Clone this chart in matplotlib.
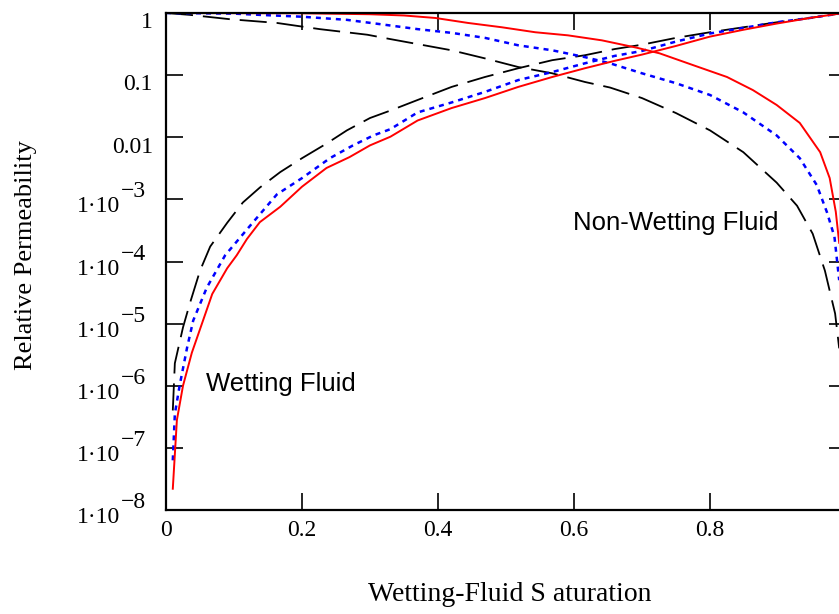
import numpy as np
import matplotlib
matplotlib.use("Agg")
import matplotlib.pyplot as plt
import matplotlib.transforms as transforms

# wetting-fluid curves (saturation, relative permeability)
s_w_red = [0.01, 0.016, 0.025, 0.038, 0.068, 0.09, 0.104, 0.119, 0.138, 0.168, 0.2, 0.236, 0.27, 0.30, 0.33,
           0.37, 0.42, 0.469, 0.518, 0.568, 0.616, 0.66, 0.70, 0.75, 0.80, 0.849, 0.898, 0.947, 0.99]
kr_w_red = [2.2e-8, 2.8e-7, 1.0e-6, 3.4e-6, 3.0e-5, 7.8e-5, 1.26e-4, 2.3e-4, 4.3e-4, 7.6e-4, 1.6e-3, 3.2e-3,
            4.8e-3, 7.4e-3, 0.0102, 0.0186, 0.0295, 0.0427, 0.0646, 0.0933, 0.129, 0.17, 0.214, 0.295, 0.417,
            0.537, 0.676, 0.832, 0.977]

s_w_blue = [0.01, 0.013, 0.02, 0.031, 0.04, 0.06, 0.087, 0.124, 0.163, 0.2, 0.241, 0.275, 0.305, 0.33, 0.37,
            0.42, 0.469, 0.518, 0.568, 0.616, 0.66, 0.70, 0.75, 0.80, 0.849, 0.898, 0.947, 0.99]
kr_w_blue = [6.3e-8, 3.5e-7, 1.0e-6, 4.1e-6, 1.12e-5, 3.8e-5, 1.26e-4, 3.8e-4, 1.2e-3, 2.2e-3, 4.6e-3, 7.4e-3,
             0.0107, 0.0135, 0.0251, 0.0363, 0.0537, 0.0832, 0.112, 0.155, 0.204, 0.245, 0.347, 0.468, 0.575,
             0.708, 0.832, 0.977]

s_w_black = [0.01, 0.013, 0.025, 0.035, 0.05, 0.065, 0.09, 0.113, 0.138, 0.168, 0.2, 0.236, 0.266, 0.30, 0.33,
             0.37, 0.42, 0.469, 0.518, 0.568, 0.616, 0.66, 0.70, 0.75, 0.80, 0.849, 0.898, 0.947, 0.99]
kr_w_black = [4.0e-7, 2.3e-6, 8.7e-6, 2.1e-5, 7.1e-5, 1.74e-4, 4.2e-4, 8.9e-4, 1.55e-3, 2.75e-3, 4.6e-3,
              7.9e-3, 0.0129, 0.0204, 0.0269, 0.0398, 0.0646, 0.0933, 0.129, 0.174, 0.209, 0.263, 0.309, 0.398,
              0.49, 0.589, 0.708, 0.832, 0.977]

# non-wetting-fluid curves
s_nw_red = [0.0, 0.2, 0.3, 0.35, 0.396, 0.444, 0.494, 0.543, 0.591, 0.641, 0.693, 0.726, 0.775, 0.825, 0.863,
            0.898, 0.932, 0.962, 0.976, 0.985, 0.99]
kr_nw_red = [1.0, 0.99, 0.955, 0.912, 0.832, 0.692, 0.589, 0.49, 0.437, 0.363, 0.275, 0.224, 0.145, 0.0933,
             0.0575, 0.0331, 0.017, 5.75e-3, 2.2e-3, 6.3e-4, 2.0e-4]

s_nw_blue = [0.0, 0.1, 0.138, 0.2, 0.266, 0.322, 0.37, 0.42, 0.469, 0.518, 0.568, 0.616, 0.653, 0.70, 0.75,
             0.80, 0.849, 0.898, 0.932, 0.957, 0.972, 0.983, 0.99]
kr_nw_blue = [1.0, 0.977, 0.933, 0.871, 0.776, 0.646, 0.55, 0.479, 0.398, 0.302, 0.251, 0.195, 0.155, 0.107,
              0.0741, 0.0479, 0.0251, 0.0107, 4.6e-3, 1.7e-3, 6.2e-4, 2.5e-4, 5.0e-5]

s_nw_black = [0.0, 0.035, 0.094, 0.163, 0.226, 0.296, 0.33, 0.37, 0.42, 0.469, 0.518, 0.568, 0.616, 0.653,
              0.70, 0.75, 0.80, 0.849, 0.898, 0.928, 0.951, 0.969, 0.984, 0.99]
kr_nw_black = [1.0, 0.933, 0.794, 0.692, 0.55, 0.447, 0.38, 0.316, 0.251, 0.186, 0.135, 0.107, 0.0776, 0.0631,
               0.0427, 0.0245, 0.0129, 5.75e-3, 1.86e-3, 7.9e-4, 2.8e-4, 7.1e-5, 1.45e-5, 4.0e-6]

x_ticks = [0, 0.2, 0.4, 0.6, 0.8, 1.0]
x_tick_labels = ["0", "0.2", "0.4", "0.6", "0.8", ""]
y_plain = [1, 0.1, 0.01]
y_plain_labels = ["1", "0.1", "0.01"]
y_exp = [1e-3, 1e-4, 1e-5, 1e-6, 1e-7, 1e-8]
y_exp_labels = ["3", "4", "5", "6", "7", "8"]

serif = "Liberation Serif"
sans = "Liberation Sans"

fig = plt.figure(figsize=(8.39, 6.14), dpi=100)
ax = fig.add_axes([166 / 839, 104 / 614, 680 / 839, 497 / 614])

ax.plot(s_nw_black, kr_nw_black, color="black", lw=1.3, ls=(0, (15, 5.5)))
ax.plot(s_w_black, kr_w_black, color="black", lw=1.3, ls=(0, (15, 5.5)))
ax.plot(s_nw_blue, kr_nw_blue, color="#0000ff", lw=1.8, ls=(0, (2, 2)))
ax.plot(s_w_blue, kr_w_blue, color="#0000ff", lw=1.8, ls=(0, (2, 2)))
ax.plot(s_nw_red, kr_nw_red, color="#ff0000", lw=1.4)
ax.plot(s_w_red, kr_w_red, color="#ff0000", lw=1.4)

ax.set_yscale("log")
ax.set_xlim(0, 1)
ax.set_ylim(1e-8, 1)
ax.minorticks_off()

for sp in ax.spines.values():
    sp.set_linewidth(1.6)

ax.set_xticks(x_ticks)
ax.set_xticklabels(x_tick_labels, fontfamily=serif, fontsize=17)
ax.set_yticks(y_plain + y_exp)
ax.set_yticklabels([])
ax.tick_params(which="major", direction="in", length=12, width=1.2,
               top=True, right=True, pad=7)

# y tick labels drawn Mathcad style
trans = transforms.blended_transform_factory(ax.transAxes, ax.transData)
for v, lab in zip(y_plain, y_plain_labels):
    ax.annotate(lab, xy=(0, v), xycoords=trans, xytext=(-9.4, 0.5), textcoords="offset points",
                ha="right", va="top", fontfamily=serif, fontsize=17)
for v, e in zip(y_exp, y_exp_labels):
    ax.annotate("1\u00b710", xy=(0, v), xycoords=trans, xytext=(-33, -9.4), textcoords="offset points",
                ha="right", va="baseline", fontfamily=serif, fontsize=17)
    ax.annotate("\u2212" + e, xy=(0, v), xycoords=trans, xytext=(-32.4, 1.4), textcoords="offset points",
                ha="left", va="baseline", fontfamily=serif, fontsize=17)

ax.set_xlabel("Wetting-Fluid S aturation", fontfamily=serif, fontsize=20, va="center")
ax.set_ylabel("Relative Permeability", fontfamily=serif, fontsize=19, va="center")
ax.xaxis.set_label_coords(0.506, -0.171)
ax.yaxis.set_label_coords(-0.206, 0.513)

ax.text(0.169, 1.07e-6, "Wetting Fluid", fontfamily=sans, fontsize=18.5, ha="center", va="center")
ax.text(0.749, 4.1e-4, "Non-Wetting Fluid", fontfamily=sans, fontsize=18.5, ha="center", va="center")

fig.savefig("out.png", dpi=100)
